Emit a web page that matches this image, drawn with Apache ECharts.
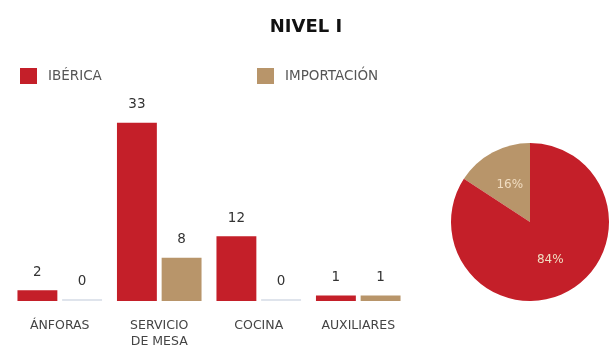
<!DOCTYPE html>
<html><head><meta charset="utf-8">
<script src="https://cdn.jsdelivr.net/npm/echarts@6/dist/echarts.min.js"></script>
<style>html,body{margin:0;padding:0;background:#fff}#c{width:612px;height:350px}</style>
</head><body><div id="c"></div>
<script>
const title = 'NIVEL I';
const categories = ['ÁNFORAS', 'SERVICIO\nDE MESA', 'COCINA', 'AUXILIARES'];
const seriesNames = ['IBÉRICA', 'IMPORTACIÓN'];
const iberica = [2, 33, 12, 1];
const importacion = [0, 8, 0, 1];
const pieLabels = ['84%', '16%'];
const colors = ['#c41f29', '#b8956a'];
const zeroColor = '#dfe4ec';

const ibTotal = iberica.reduce((a, b) => a + b, 0);
const imTotal = importacion.reduce((a, b) => a + b, 0);
const font = '"DejaVu Sans", sans-serif';

function toData(arr) {
  return arr.map(v => v === 0 ? { value: v, itemStyle: { color: zeroColor } } : v);
}

const legendText = { fontFamily: font, fontSize: 13.5, color: '#555', padding: [0, 0, 0, 6] };

const chart = echarts.init(document.getElementById('c'), null, { renderer: 'canvas' });
chart.setOption({
  animation: false,
  color: colors,
  title: {
    text: title, left: 'center', top: 13,
    textStyle: { fontFamily: font, fontSize: 18, fontWeight: 'bold', color: '#111' }
  },
  legend: [
    { data: [seriesNames[0]], left: 15, top: 63, itemWidth: 17, itemHeight: 16, icon: 'rect', textStyle: legendText },
    { data: [seriesNames[1]], left: 252, top: 63, itemWidth: 17, itemHeight: 16, icon: 'rect', textStyle: legendText }
  ],
  grid: { left: 10, width: 398, top: 85, height: 217 },
  xAxis: {
    type: 'category', data: categories,
    axisLine: { show: false }, axisTick: { show: false },
    axisLabel: { margin: 17, fontFamily: font, fontSize: 12.5, color: '#444', lineHeight: 16, interval: 0 }
  },
  yAxis: { type: 'value', min: 0, max: 40, show: false, splitLine: { show: false } },
  series: [
    { name: seriesNames[0], type: 'bar', data: toData(iberica), barGap: '12%', barCategoryGap: '15%',
      barMinHeight: 2,
      label: { show: true, position: 'top', distance: 11, fontFamily: font, fontSize: 13.5, color: '#333' } },
    { name: seriesNames[1], type: 'bar', data: toData(importacion), barMinHeight: 2,
      label: { show: true, position: 'top', distance: 11, fontFamily: font, fontSize: 13.5, color: '#333' } },
    { type: 'pie', center: [530, 222], radius: 79, startAngle: 90, clockwise: false,
      data: [
        { name: seriesNames[1], value: imTotal, itemStyle: { color: colors[1] }, label: { formatter: pieLabels[1] } },
        { name: seriesNames[0], value: ibTotal, itemStyle: { color: colors[0] }, label: { formatter: pieLabels[0] } }
      ],
      label: { show: true, position: 'inside', fontFamily: font, fontSize: 12, color: '#f0dcc0' },
      labelLine: { show: false }, emphasis: { disabled: true }
    }
  ]
});
</script></body></html>
